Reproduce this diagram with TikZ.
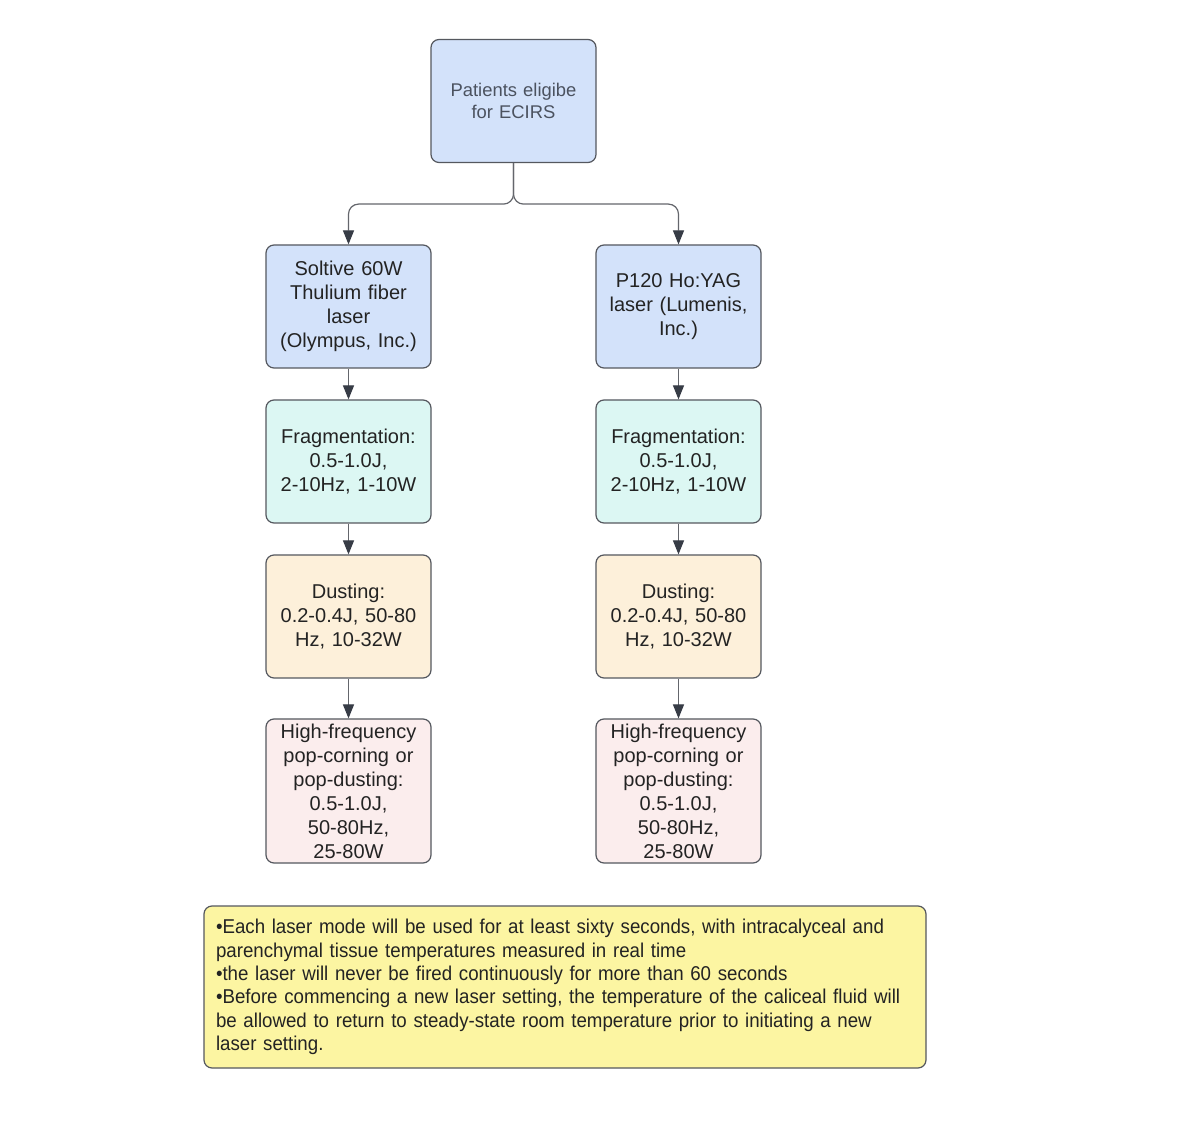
\documentclass[tikz,border=0pt]{standalone}
\usepackage{fontspec}
\setmainfont{Liberation Sans}
\newfontfamily\narrowfont[FakeStretch=0.935]{Liberation Sans}
\usetikzlibrary{arrows.meta}
\definecolor{bordc}{RGB}{85,88,95}
\definecolor{txtc}{RGB}{35,35,35}
\definecolor{toptxt}{RGB}{75,82,95}
\definecolor{bluef}{RGB}{211,226,250}
\definecolor{cyanf}{RGB}{220,247,243}
\definecolor{peachf}{RGB}{253,240,218}
\definecolor{pinkf}{RGB}{251,237,237}
\definecolor{yellf}{RGB}{252,245,162}
\definecolor{linec}{RGB}{100,102,108}
\definecolor{tipc}{RGB}{55,60,70}
\begin{document}
\begin{tikzpicture}[x=0.5pt,y=-0.5pt,
  box/.style={draw=bordc, line width=0.6pt, rounded corners=4pt, minimum width=82.5pt, minimum height=61.5pt, text width=78pt, align=center, inner sep=2pt, font=\fontsize{10}{12}\selectfont, text=txtc},
  conn/.style={draw=linec, line width=0.6pt, -{Triangle[length=7pt,width=5.5pt,color=tipc]}},
]
\useasboundingbox[fill=white] (0,0) rectangle (1200,1133);
\node[box, fill=bluef, text=toptxt, font=\fontsize{9.2}{11}\selectfont] (top) at (513.5,101) {Patients eligibe\\for ECIRS\\[2pt]};
\node[box, fill=bluef] (l1) at (348.5,306.5) {Soltive 60W\\Thulium fiber\\laser\\(Olympus, Inc.)};
\node[box, fill=bluef] (r1) at (678.5,306.5) {P120 Ho:YAG\\laser (Lumenis,\\Inc.)};
\node[box, fill=cyanf] (l2) at (348.5,461.5) {Fragmentation:\\0.5-1.0J,\\2-10Hz, 1-10W};
\node[box, fill=cyanf] (r2) at (678.5,461.5) {Fragmentation:\\0.5-1.0J,\\2-10Hz, 1-10W};
\node[box, fill=peachf] (l3) at (348.5,616.5) {Dusting:\\0.2-0.4J, 50-80\\Hz, 10-32W};
\node[box, fill=peachf] (r3) at (678.5,616.5) {Dusting:\\0.2-0.4J, 50-80\\Hz, 10-32W};
\node[box, fill=pinkf, minimum height=72pt] (l4) at (348.5,791) {High-frequency\\pop-corning or\\pop-dusting:\\0.5-1.0J,\\50-80Hz,\\25-80W};
\node[box, fill=pinkf, minimum height=72pt] (r4) at (678.5,791) {High-frequency\\pop-corning or\\pop-dusting:\\0.5-1.0J,\\50-80Hz,\\25-80W};
\node[draw=bordc, line width=0.6pt, rounded corners=4pt, fill=yellf, minimum width=361pt, minimum height=81pt, text width=349pt, align=left, inner sep=6pt, text=txtc, font=\narrowfont\fontsize{10}{11.65}\selectfont] (note) at (565,987) {%
•Each laser mode will be used for at least sixty seconds, with intracalyceal and\\
parenchymal tissue temperatures measured in real time\\
•the laser will never be fired continuously for more than 60 seconds\\
•Before commencing a new laser setting, the temperature of the caliceal fluid will\\
be allowed to return to steady-state room temperature prior to initiating a new\\
laser setting.};
\draw[conn, rounded corners=5pt] (top.south) -- ++(0,41) -| (l1.north);
\draw[conn, rounded corners=5pt] (top.south) -- ++(0,41) -| (r1.north);
\draw[conn] (l1) -- (l2);
\draw[conn] (l2) -- (l3);
\draw[conn] (l3) -- (l4);
\draw[conn] (r1) -- (r2);
\draw[conn] (r2) -- (r3);
\draw[conn] (r3) -- (r4);
\end{tikzpicture}
\end{document}
